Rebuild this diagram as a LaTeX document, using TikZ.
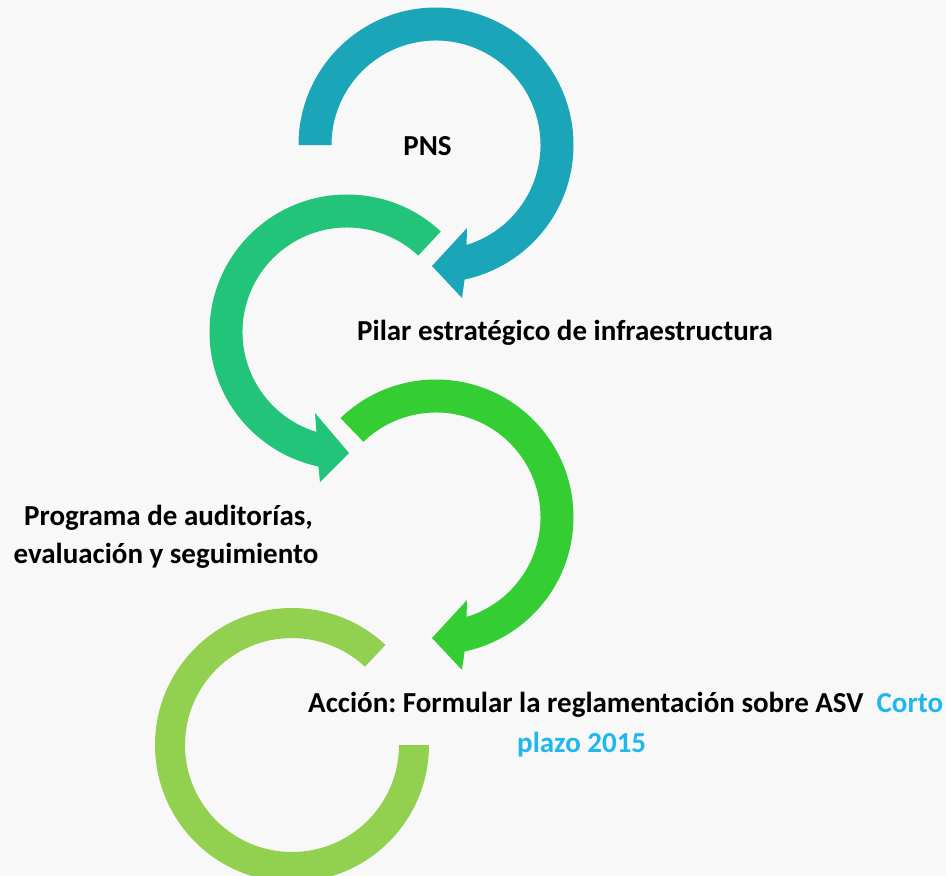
\documentclass[tikz,border=0pt]{standalone}
\usepackage{fontspec}
\setmainfont{Carlito}
\usetikzlibrary{calc}
\definecolor{bgc}{RGB}{248,248,248}
\definecolor{arcA}{RGB}{26,166,184}
\definecolor{arcB}{RGB}{34,196,122}
\definecolor{arcC}{RGB}{52,206,52}
\definecolor{arcD}{RGB}{146,208,80}
\definecolor{blueT}{RGB}{30,184,236}
\frenchspacing
\begin{document}
\begin{tikzpicture}[x=1pt,y=1pt,
  lbl/.style={font=\fontsize{29}{38}\selectfont\bfseries, inner sep=0pt, text=black}]
\useasboundingbox (0,0) rectangle (946,-876);
\clip (0,0) rectangle (946,-876);
\fill[bgc] (0,0) rectangle (946,-876);
\coordinate (c1) at (436,-145);
\coordinate (c2) at (347,-332);
\coordinate (c3) at (436,-517);
\coordinate (c4) at (292,-745);
% arc 1 (teal)
\fill[arcA] ($(c1)+(180:137.5)$) arc[start angle=180, end angle=-78, radius=137.5]
  -- (462,-298) -- (432,-266) -- (467,-228)
  -- ($(c1)+(-73:104.5)$) arc[start angle=-73, end angle=180, radius=104.5] -- cycle;
% arc 2 (green-teal)
\fill[arcB] ($(c2)+(47:137.5)$) arc[start angle=47, end angle=258, radius=137.5]
  -- (320,-482) -- (349,-453) -- (315,-413)
  -- ($(c2)+(253:104.5)$) arc[start angle=253, end angle=47, radius=104.5] -- cycle;
% arc 3 (green)
\fill[arcC] ($(c3)+(134:137.5)$) arc[start angle=134, end angle=-78, radius=137.5]
  -- (462,-670) -- (432,-638) -- (467,-600)
  -- ($(c3)+(-73:104.5)$) arc[start angle=-73, end angle=134, radius=104.5] -- cycle;
% arc 4 (light green)
\fill[arcD] ($(c4)+(47:137)$) arc[start angle=47, end angle=360, radius=137]
  -- ($(c4)+(0:107)$) arc[start angle=360, end angle=47, radius=107] -- cycle;
% labels
\node[lbl, anchor=base] (pns) at (427.5,-155) {PNS};
\node[lbl, anchor=base west] (pilar) at (357,-340) {Pilar estratégico de infraestructura};
\node[lbl, anchor=base] (prog1) at (168.5,-525) {Programa de auditorías,};
\node[lbl, anchor=base] (prog2) at (166,-563) {evaluación y seguimiento};
\node[lbl, anchor=base west] (accion) at (308,-712) {Acción: Formular la reglamentación sobre ASV\ \ \textcolor{blueT}{Corto}};
\node[lbl, anchor=base west, text=blueT] (plazo) at (517,-752) {plazo 2015};
\end{tikzpicture}
\end{document}
